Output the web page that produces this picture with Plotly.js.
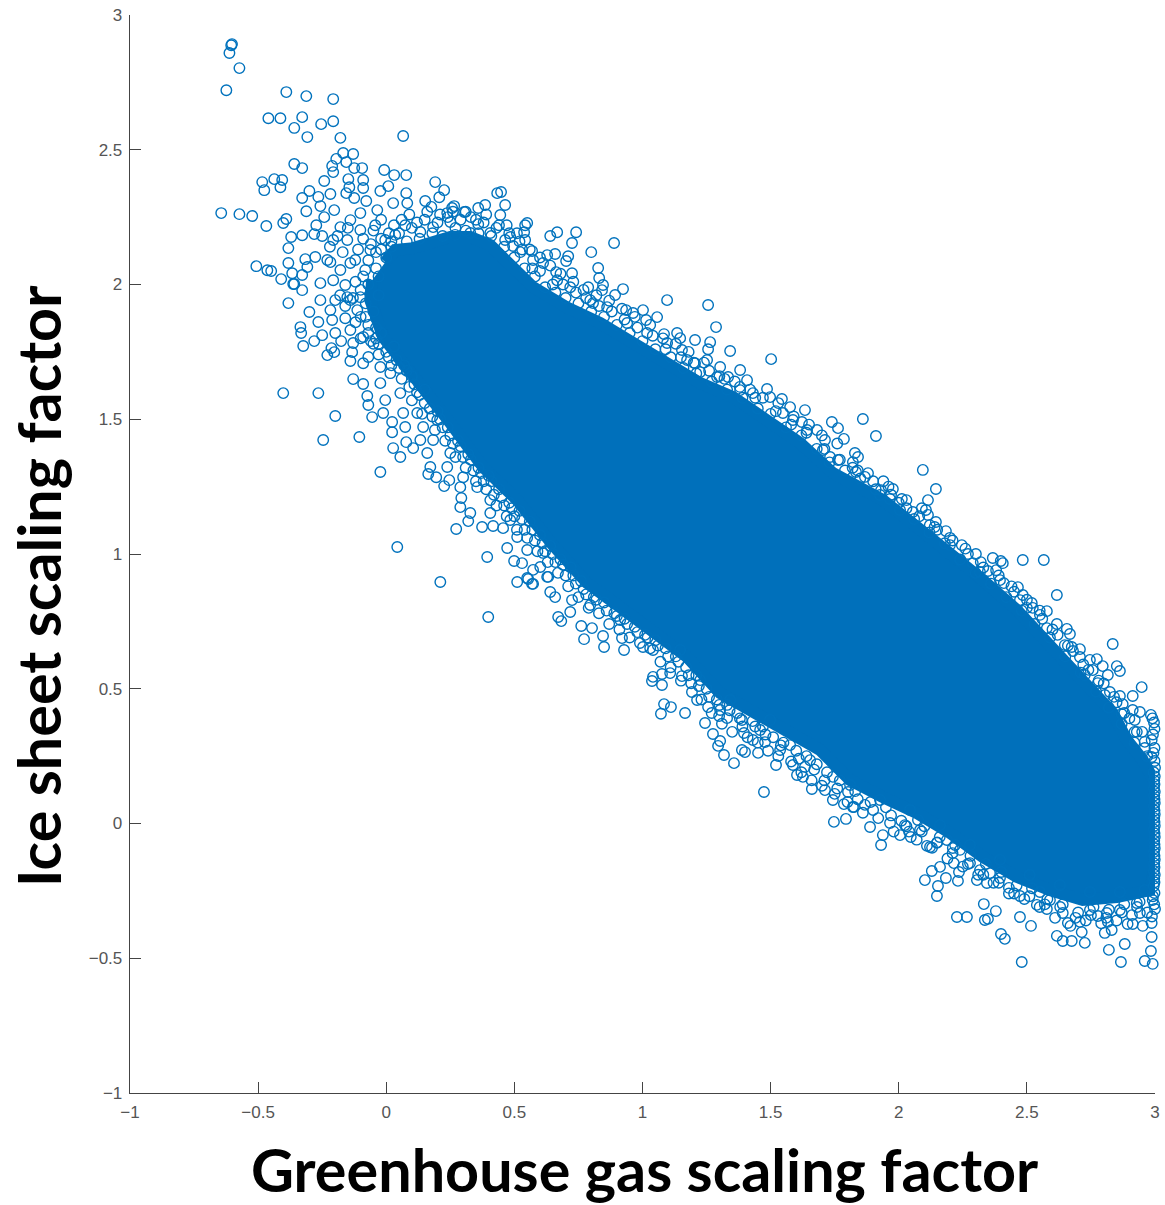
<!DOCTYPE html>
<html><head><meta charset="utf-8">
<script src="https://cdn.plot.ly/plotly-3.0.1.min.js"></script>
<style>html,body{margin:0;padding:0;background:#fff}#chart{width:1165px;height:1205px}</style>
</head><body><div id="chart"></div>
<script>
const xTitle = "Greenhouse gas scaling factor";
const yTitle = "Ice sheet scaling factor";
const tickValues = [-1,-0.5,0,0.5,1,1.5,2,2.5,3];
const tickLabels = ["\u22121","\u22120.5","0","0.5","1","1.5","2","2.5","3"];

// outline of the part of the cloud where the circles overlap into solid colour
const coreOutline = [[-0.004,2.083],[0.035,2.128],[0.105,2.135],[0.172,2.154],[0.25,2.176],[0.328,2.176],[0.406,2.146],[0.445,2.109],[0.573,1.99],[0.703,1.916],[0.835,1.857],[0.963,1.783],[1.096,1.708],[1.225,1.634],[1.353,1.582],[1.486,1.497],[1.615,1.412],[1.743,1.3],[1.81,1.263],[1.938,1.2],[2.071,1.1],[2.2,1.004],[2.328,0.903],[2.461,0.792],[2.59,0.655],[2.718,0.532],[2.835,0.41],[2.89,0.31],[2.952,0.236],[3,0.15],[3,-0.161],[2.98,-0.247],[2.851,-0.273],[2.718,-0.284],[2.59,-0.247],[2.461,-0.198],[2.328,-0.124],[2.2,-0.035],[2.071,0.039],[1.938,0.098],[1.81,0.161],[1.693,0.273],[1.564,0.347],[1.431,0.421],[1.303,0.484],[1.174,0.618],[1.041,0.718],[0.913,0.803],[0.784,0.892],[0.651,1.033],[0.511,1.2],[0.378,1.323],[0.25,1.486],[0.121,1.645],[-0.012,1.805],[-0.062,1.942],[-0.055,2.016]];

const topLeftPoints = [[-0.605,2.888],[-0.602,2.892],[-0.612,2.859],[-0.573,2.803],[-0.624,2.721],[-0.39,2.714],[-0.312,2.699],[-0.207,2.688],[-0.46,2.617],[-0.413,2.617],[-0.328,2.621],[-0.359,2.581],[-0.254,2.595],[-0.207,2.606],[-0.308,2.547],[-0.179,2.544],[0.066,2.551],[-0.168,2.488],[-0.129,2.484],[-0.195,2.466],[-0.156,2.454],[-0.359,2.447],[-0.328,2.432],[-0.211,2.44],[-0.207,2.417],[-0.125,2.432],[-0.094,2.432],[-0.008,2.425],[0.031,2.406],[0.078,2.406],[0.191,2.38],[0.226,2.35],[0.207,2.324],[-0.484,2.38],[-0.437,2.391],[-0.406,2.388],[-0.476,2.35],[-0.413,2.361],[-0.242,2.384],[-0.148,2.391],[-0.09,2.388],[-0.144,2.361],[-0.09,2.358],[0.008,2.365],[-0.023,2.347],[0.078,2.339],[-0.3,2.347],[-0.328,2.321],[-0.218,2.336],[-0.265,2.325],[-0.257,2.291],[-0.156,2.339],[-0.125,2.321],[-0.078,2.31],[-0.312,2.272],[-0.203,2.276],[0.152,2.31],[0.176,2.288],[0.265,2.291],[0.304,2.269],[0.359,2.284],[0.238,2.265],[-0.644,2.265],[-0.573,2.261],[-0.523,2.254],[-0.468,2.217],[-0.39,2.243],[-0.402,2.228],[-0.371,2.176],[-0.328,2.183],[-0.281,2.187],[-0.382,2.135],[-0.507,2.068],[-0.464,2.053],[-0.449,2.05],[-0.41,2.02],[-0.382,2.08],[-0.316,2.094],[-0.308,2.065],[-0.367,2.042],[-0.328,2.035],[-0.359,2.002],[-0.328,1.979],[-0.273,2.22],[-0.242,2.25],[-0.101,2.265],[-0.035,2.276],[0.027,2.302],[0.082,2.302],[0.183,2.213],[0.25,2.232],[0.328,2.191],[-0.277,2.102],[-0.257,2.005],[-0.23,2.091],[-0.207,2.165],[-0.179,2.213],[-0.14,2.239],[-0.152,2.165],[-0.101,2.202],[-0.207,2.016],[-0.14,2.08],[0.269,2.184],[0.406,2.191],[0.359,2.224],[0.445,2.258],[0.386,2.295],[0.433,2.339],[0.257,2.284],[0.484,2.176],[0.542,2.22],[0.464,2.165],[0.133,2.195],[0.074,2.22],[0.035,2.184],[-0.043,2.22],[-0.004,2.165],[-0.062,2.128],[-0.121,2.091],[-0.082,2.054],[-0.16,1.998],[-0.179,2.054],[-0.218,2.083],[-0.14,1.942],[-0.199,1.942],[-0.257,1.942],[-0.16,1.875]];

const lowerLeftPoints = [[-0.363,2.002],[-0.382,1.931],[-0.3,1.898],[-0.218,1.905],[-0.335,1.842],[-0.332,1.82],[-0.265,1.861],[-0.211,1.868],[-0.324,1.772],[-0.281,1.79],[-0.25,1.812],[-0.199,1.82],[-0.176,1.79],[-0.214,1.764],[-0.23,1.738],[-0.203,1.749],[-0.14,1.716],[-0.133,1.749],[-0.09,1.708],[-0.129,1.649],[-0.09,1.631],[-0.074,1.586],[-0.07,1.553],[-0.055,1.508],[-0.012,1.523],[0.023,1.49],[0.023,1.452],[0.074,1.471],[0.027,1.393],[0.055,1.36],[0.078,1.415],[0.105,1.393],[0.133,1.423],[0.16,1.375],[0.172,1.323],[0.164,1.297],[0.195,1.285],[0.226,1.252],[0.246,1.274],[0.293,1.208],[0.289,1.174],[0.328,1.152],[0.32,1.122],[0.374,1.1],[0.417,1.104],[0.456,1.096],[0.273,1.093],[0.394,0.989],[0.472,1.022],[0.499,0.974],[0.53,0.966],[0.511,0.896],[0.554,0.907],[0.573,0.889],[0.64,0.859],[0.628,0.915],[0.601,0.952],[0.573,0.941],[-0.402,1.597],[-0.265,1.597],[-0.199,1.512],[-0.246,1.423],[-0.105,1.434],[-0.023,1.304],[0.043,1.026],[0.211,0.896],[0.398,0.766],[-0.023,1.634],[-0.004,1.571],[0.016,1.671],[0.055,1.597],[0.066,1.523],[0.121,1.523],[0.144,1.471],[0.199,1.497],[0.183,1.423],[0.25,1.375],[0.238,1.323],[0.3,1.285],[0.355,1.248],[0.289,1.248],[0.406,1.2],[0.406,1.152],[0.484,1.126],[0.511,1.063],[0.55,1.015],[0.612,1.004],[-0.14,1.831],[-0.09,1.805],[-0.113,1.905],[-0.152,1.953],[-0.101,1.953],[-0.129,1.783],[-0.07,1.731],[-0.023,1.694]];

const upperEdgePoints = [[0.448,2.343],[0.464,2.295],[0.55,2.228],[0.538,2.194],[0.542,2.165],[0.64,2.18],[0.667,2.194],[0.741,2.194],[0.725,2.154],[0.889,2.154],[0.8,2.12],[0.659,2.113],[0.71,2.105],[0.702,2.087],[0.628,2.109],[0.569,2.124],[0.495,2.143],[0.827,2.061],[0.831,2.024],[0.663,2.046],[0.725,2.042],[0.846,1.998],[0.788,1.99],[0.924,1.983],[0.842,1.979],[0.893,1.961],[1.096,1.942],[1.256,1.924],[1.287,1.842],[0.936,1.905],[1.002,1.905],[0.963,1.894],[1.057,1.879],[1.014,1.868],[1.084,1.816],[1.135,1.82],[1.147,1.801],[1.205,1.794],[1.264,1.786],[1.256,1.76],[1.342,1.753],[1.502,1.723],[1.252,1.72],[1.205,1.708],[1.303,1.694],[1.381,1.683],[1.334,1.657],[1.408,1.645],[1.486,1.612],[1.498,1.582],[1.544,1.575],[1.576,1.545],[1.634,1.534],[1.622,1.49],[1.681,1.46],[1.739,1.49],[1.763,1.467],[1.86,1.501],[1.786,1.427],[1.911,1.438],[1.712,1.423],[1.732,1.36],[1.763,1.349],[1.829,1.375],[1.841,1.36],[1.821,1.341],[1.868,1.286],[0.796,1.942],[0.862,1.916],[0.718,1.99],[0.612,2.08],[0.523,2.12],[1.018,1.82],[1.096,1.783],[1.154,1.757],[1.225,1.675],[1.381,1.608],[1.548,1.523],[1.642,1.46],[0.573,2.091],[0.667,2.016],[0.807,1.931],[0.94,1.857],[1.174,1.72],[1.291,1.657],[1.431,1.597],[1.587,1.497],[1.704,1.386]];

const upperRightPoints = [[2.094,1.312],[2.145,1.241],[2.114,1.2],[1.977,1.241],[1.931,1.237],[2.012,1.204],[1.966,1.204],[1.833,1.304],[2.106,1.163],[2.055,1.156],[2.114,1.145],[2.145,1.119],[2.184,1.085],[2.246,1.033],[2.301,1],[2.367,0.985],[2.406,0.966],[2.398,0.974],[2.484,0.978],[2.566,0.978],[2.289,0.966],[2.348,0.937],[2.317,0.933],[2.41,0.892],[2.465,0.877],[2.617,0.848],[2.484,0.848],[2.519,0.818],[2.578,0.788],[2.523,0.8],[2.617,0.74],[2.656,0.722],[2.668,0.703],[2.578,0.725],[2.675,0.655],[2.707,0.647],[2.835,0.666],[2.707,0.618],[2.773,0.61],[2.746,0.607],[2.796,0.584],[2.851,0.584],[2.863,0.566],[2.816,0.551],[2.757,0.569],[2.777,0.521],[2.948,0.506],[2.913,0.473],[2.824,0.488],[2.863,0.473],[2.874,0.443],[2.913,0.421],[2.984,0.403],[2.941,0.414],[2.87,0.406],[2.005,1.163],[2.2,1.033],[2.239,0.978],[2.395,0.903],[2.551,0.774],[2.648,0.662],[2.726,0.551],[2.804,0.477],[2.921,0.384],[2.473,0.829],[2.121,1.107],[1.927,1.219]];

const lowerRightPoints = [[2.998,0.351],[2.987,0.31],[2.998,0.28],[3,0.207],[2.929,0.34],[2.96,0.303],[2.987,0.247],[1.825,0.061],[1.868,0.069],[1.888,-0.013],[1.938,-0.043],[1.931,-0.08],[2.005,-0.043],[2.047,-0.05],[1.966,0.002],[2.024,-0.006],[2.083,-0.024],[2.11,-0.083],[2.149,-0.072],[2.122,-0.087],[2.211,-0.091],[2.161,-0.161],[2.129,-0.176],[2.215,-0.147],[2.235,-0.18],[2.102,-0.21],[2.184,-0.202],[2.231,-0.213],[2.153,-0.232],[2.149,-0.269],[2.305,-0.21],[2.344,-0.221],[2.332,-0.299],[2.379,-0.325],[2.227,-0.347],[2.266,-0.347],[2.336,-0.358],[2.348,-0.354],[2.473,-0.347],[2.516,-0.38],[2.399,-0.41],[2.414,-0.428],[2.48,-0.514],[2.473,-0.269],[2.43,-0.239],[2.539,-0.302],[2.578,-0.317],[2.617,-0.417],[2.64,-0.436],[2.675,-0.436],[2.714,-0.403],[2.726,-0.443],[2.777,-0.343],[2.707,-0.365],[2.66,-0.369],[2.82,-0.469],[2.882,-0.447],[2.867,-0.514],[2.96,-0.51],[2.991,-0.521],[2.984,-0.473],[2.987,-0.421],[2.804,-0.406],[2.831,-0.395],[2.893,-0.373],[2.913,-0.373],[2.952,-0.38],[2.987,-0.369],[3,-0.317],[2.816,-0.365],[2.59,-0.284],[2.64,-0.332],[2.746,-0.321],[2.812,-0.332],[2.941,-0.332],[2.863,-0.321],[2.991,-0.284],[2.929,-0.295],[2.551,-0.254],[2.356,-0.184],[2.395,-0.202],[2.278,-0.147],[2.317,-0.173],[2.239,-0.098],[2.188,-0.061],[2.075,0.013]];

const lowerMiddlePoints = [[0.569,0.889],[0.55,0.911],[0.632,0.915],[0.659,0.84],[0.725,0.829],[0.718,0.785],[0.671,0.766],[0.683,0.751],[0.761,0.733],[0.803,0.725],[0.772,0.684],[0.85,0.655],[0.846,0.696],[0.928,0.644],[0.92,0.688],[1.002,0.655],[1.041,0.644],[1.041,0.544],[1.037,0.529],[1.076,0.555],[1.076,0.514],[1.154,0.547],[1.108,0.558],[1.084,0.443],[1.111,0.432],[1.072,0.407],[1.166,0.41],[1.193,0.488],[1.213,0.458],[1.256,0.432],[1.244,0.373],[1.275,0.332],[1.303,0.306],[1.295,0.288],[1.318,0.254],[1.357,0.224],[1.299,0.399],[1.33,0.391],[1.388,0.384],[1.396,0.336],[1.388,0.273],[1.4,0.265],[1.451,0.262],[1.431,0.31],[1.478,0.302],[1.521,0.217],[1.537,0.273],[1.587,0.217],[1.603,0.18],[1.626,0.173],[1.474,0.117],[1.661,0.128],[1.712,0.124],[1.743,0.087],[1.786,0.072],[1.821,0.061],[1.747,0.006],[1.794,0.017],[1.634,0.21],[1.743,0.173],[1.802,0.117],[1.147,0.644],[1.225,0.532],[1.342,0.458],[1.498,0.384],[1.654,0.235],[0.913,0.755],[0.796,0.811],[1.303,0.421],[1.459,0.347],[1.576,0.291],[1.81,0.143],[1.927,0.087],[2.044,0.05],[2.161,-0.006],[2.278,-0.08],[2.395,-0.135],[2.511,-0.191],[2.629,-0.228],[2.746,-0.254],[2.863,-0.254],[2.96,-0.247]];

const rightEdgePoints = [[2.99,0.39],[2.996,0.375],[2.992,0.33],[2.994,0.262],[2.998,0.232],[2.995,0.19],[2.999,0.175],[2.997,0.16],[2.998,0.146],[2.996,0.132],[2.999,0.118],[2.997,0.104],[2.998,0.09],[2.999,0.076],[2.996,0.062],[2.998,0.048],[2.999,0.034],[2.997,0.02],[2.998,0.006],[2.999,-0.008],[2.996,-0.022],[2.998,-0.036],[2.999,-0.05],[2.997,-0.064],[2.998,-0.078],[2.999,-0.092],[2.996,-0.106],[2.998,-0.12],[2.999,-0.134],[2.997,-0.148],[2.998,-0.162],[2.996,-0.176],[2.999,-0.19],[2.997,-0.204],[2.998,-0.218],[2.995,-0.232],[2.998,-0.258],[2.992,-0.27],[2.997,-0.3],[2.988,-0.345]];

const upperBandPoints = [[0.02,2.14],[0.05,2.19],[0.08,2.16],[0.1,2.21],[0.13,2.17],[0.15,2.24],[0.18,2.19],[0.2,2.23],[0.22,2.18],[0.24,2.25],[0.27,2.21],[0.29,2.24],[0.31,2.2],[0.33,2.25],[0.36,2.19],[0.38,2.23],[0.41,2.18],[0.43,2.21],[0.46,2.14],[0.48,2.19],[0.5,2.1],[0.52,2.16],[0.54,2.06],[0.56,2.13],[0.58,2.03],[0.6,2.1],[0.62,1.99],[0.64,2.07],[0.66,1.97],[0.68,2.04],[0.7,1.95],[0.73,2.01],[0.75,1.93],[0.77,1.98],[0.8,1.9],[0.82,1.96],[0.85,1.88],[0.87,1.94],[0.9,1.85],[0.92,1.91],[0.95,1.82],[0.97,1.88],[1,1.79],[1.03,1.85],[1.05,1.76],[1.08,1.8],[1.11,1.73],[1.13,1.78],[1.16,1.69],[1.18,1.75],[1.21,1.67],[1.24,1.71],[1.27,1.64],[1.3,1.66],[1.33,1.61],[1.36,1.64],[1.39,1.58],[1.42,1.61],[1.45,1.54],[1.47,1.58],[1.5,1.52],[1.53,1.56],[1.56,1.47],[1.59,1.51],[1.62,1.44],[1.65,1.48],[1.68,1.39],[1.7,1.44],[1.73,1.34],[1.76,1.41],[1.79,1.31],[1.82,1.32],[1.85,1.28],[1.88,1.3],[1.91,1.24],[1.94,1.27],[1.97,1.22],[2,1.19],[2.03,1.17],[2.06,1.13],[2.09,1.17],[2.12,1.08],[2.15,1.09],[2.18,1.04],[2.21,1.05],[2.24,0.98],[2.27,1],[2.3,0.93],[2.33,0.95],[2.36,0.89],[2.39,0.92],[2.42,0.84],[2.45,0.86],[2.48,0.79],[2.5,0.83],[2.53,0.74],[2.56,0.76],[2.59,0.69],[2.62,0.7],[2.65,0.62],[2.68,0.64],[2.71,0.56],[2.74,0.57],[2.77,0.49],[2.8,0.52],[2.82,0.43],[2.85,0.45],[2.87,0.37],[2.9,0.39],[2.92,0.3],[2.95,0.34],[2.97,0.25],[-0.04,2.12],[-0.02,2.17],[0.01,2.19],[0.03,2.22],[0.06,2.24],[0.09,2.26],[0.12,2.23],[0.16,2.27],[0.21,2.26],[0.26,2.27],[0.31,2.27],[0.35,2.24],[0.39,2.26],[0.44,2.22],[0.47,2.22],[0.51,2.19],[0.53,2.13],[0.57,2.06],[0.6,2.05],[0.65,2],[0.69,2],[0.74,1.97],[0.78,1.95],[0.83,1.92],[0.88,1.9],[0.93,1.87],[0.98,1.84],[1.04,1.81],[1.09,1.76],[1.15,1.73],[1.2,1.71],[1.26,1.68],[1.32,1.65],[1.38,1.62],[1.44,1.58],[1.52,1.53],[1.58,1.48],[1.64,1.45],[1.71,1.39],[1.77,1.35],[1.84,1.31],[1.9,1.27],[1.96,1.25],[2.03,1.2],[2.08,1.14],[2.14,1.1],[2.2,1.06],[2.26,1.02],[2.32,0.97],[2.38,0.94],[2.44,0.88],[2.5,0.8],[2.55,0.79],[2.6,0.72],[2.66,0.66],[2.72,0.59],[2.78,0.53],[2.84,0.47],[2.88,0.41],[2.92,0.34],[2.96,0.28]];

const lowerBandPoints = [[-0.05,1.78],[-0.03,1.74],[0,1.75],[0.02,1.7],[0.04,1.72],[0.06,1.65],[0.08,1.68],[0.09,1.62],[0.11,1.63],[0.1,1.57],[0.13,1.59],[0.15,1.56],[0.14,1.52],[0.17,1.54],[0.19,1.46],[0.21,1.5],[0.23,1.42],[0.25,1.44],[0.27,1.36],[0.29,1.4],[0.31,1.32],[0.33,1.35],[0.35,1.27],[0.37,1.3],[0.39,1.24],[0.41,1.27],[0.43,1.18],[0.45,1.21],[0.47,1.14],[0.49,1.17],[0.51,1.09],[0.53,1.13],[0.55,1.06],[0.57,1.09],[0.59,1.01],[0.61,1.04],[0.63,0.97],[0.65,1],[0.67,0.93],[0.69,0.96],[0.71,0.88],[0.73,0.92],[0.75,0.84],[0.77,0.87],[0.79,0.8],[0.81,0.84],[0.83,0.78],[0.85,0.82],[0.87,0.74],[0.89,0.78],[0.91,0.72],[0.93,0.76],[0.95,0.69],[0.97,0.73],[0.99,0.67],[1.01,0.7],[1.03,0.65],[1.05,0.68],[1.07,0.6],[1.09,0.65],[1.11,0.58],[1.13,0.62],[1.15,0.53],[1.17,0.58],[1.19,0.52],[1.21,0.55],[1.23,0.46],[1.25,0.5],[1.27,0.41],[1.29,0.46],[1.31,0.37],[1.33,0.44],[1.35,0.34],[1.37,0.41],[1.39,0.36],[1.41,0.32],[1.43,0.38],[1.45,0.3],[1.47,0.36],[1.49,0.27],[1.51,0.32],[1.53,0.25],[1.55,0.3],[1.58,0.23],[1.6,0.27],[1.62,0.19],[1.64,0.25],[1.66,0.16],[1.68,0.22],[1.7,0.14],[1.72,0.19],[1.75,0.11],[1.77,0.16],[1.8,0.08],[1.83,0.12],[1.86,0.04],[1.89,0.08],[1.92,0.02],[1.95,0.06],[1.98,-0.03],[2.01,0.01],[2.04,-0.03],[2.07,-0.06],[2.1,-0.01],[2.13,-0.09],[2.16,-0.05],[2.19,-0.13],[2.22,-0.08],[2.25,-0.16],[2.28,-0.12],[2.31,-0.19],[2.34,-0.15],[2.37,-0.22],[2.4,-0.18],[2.43,-0.26],[2.46,-0.23],[2.49,-0.28],[2.52,-0.24],[2.55,-0.31],[2.58,-0.28],[2.61,-0.35],[2.64,-0.3],[2.67,-0.38],[2.7,-0.33],[2.73,-0.36],[2.76,-0.31],[2.79,-0.37],[2.82,-0.32],[2.85,-0.36],[2.88,-0.3],[2.91,-0.34],[2.94,-0.29],[2.97,-0.33],[-0.08,1.88],[-0.07,1.82],[-0.04,1.8],[-0.03,1.78],[0.01,1.73],[0.03,1.77],[0.05,1.69],[0.07,1.7],[0.1,1.66],[0.12,1.6],[0.15,1.61],[0.18,1.51],[0.2,1.53],[0.22,1.47],[0.24,1.47],[0.26,1.41],[0.28,1.42],[0.3,1.36],[0.32,1.37],[0.34,1.31],[0.36,1.32],[0.38,1.27],[0.4,1.29],[0.42,1.22],[0.44,1.24],[0.46,1.18],[0.48,1.19],[0.5,1.14],[0.52,1.16],[0.54,1.09],[0.56,1.12],[0.58,1.05],[0.6,1.07],[0.62,1.01],[0.64,1.03],[0.66,0.97],[0.68,0.98],[0.7,0.92],[0.72,0.95],[0.74,0.89],[0.76,0.9],[0.78,0.85],[0.82,0.83],[0.86,0.79],[0.9,0.77],[0.94,0.74],[0.98,0.71],[1.02,0.69],[1.06,0.66],[1.1,0.62],[1.14,0.6],[1.18,0.55],[1.22,0.51],[1.26,0.47],[1.3,0.44],[1.34,0.42],[1.38,0.39],[1.44,0.36],[1.48,0.33],[1.54,0.29],[1.61,0.24],[1.67,0.2],[1.71,0.16],[1.76,0.13],[1.84,0.09],[1.9,0.05],[1.97,0.03],[2.03,-0.01],[2.09,-0.03],[2.15,-0.07],[2.21,-0.11],[2.27,-0.15],[2.33,-0.19],[2.39,-0.22],[2.45,-0.26],[2.51,-0.27],[2.57,-0.3],[2.63,-0.31],[2.69,-0.35],[2.75,-0.34],[2.81,-0.35],[2.87,-0.33],[2.93,-0.31]];

const leftBandPoints = [[-0.05,2.2],[-0.02,2.24],[-0.06,2.15],[-0.02,2.13],[-0.09,2.17],[-0.11,2.13],[-0.07,2.09],[-0.04,2.06],[-0.09,2.03],[-0.12,2.01],[-0.07,2],[-0.1,1.98],[-0.13,1.95],[-0.08,1.93],[-0.05,1.9],[-0.1,1.88],[-0.12,1.86],[-0.07,1.85],[-0.04,1.84],[-0.1,1.8],[-0.06,1.79],[-0.02,1.82],[-0.17,2.12],[-0.19,2.18],[-0.15,2.21],[-0.22,2.14],[-0.25,2.18],[-0.18,1.96],[-0.16,1.92],[-0.03,1.96],[-0.03,2.03],[0,2.1],[0.02,2.16]];

const ringPoints = [].concat(topLeftPoints, lowerLeftPoints, upperEdgePoints, upperRightPoints, lowerRightPoints, lowerMiddlePoints, rightEdgePoints, upperBandPoints, lowerBandPoints, leftBandPoints);
const blue = "#0072BD";
const titleFont = {family:"Lato, sans-serif", size:59.3, color:"#000", weight:700};

const traces = [
  {type:"scatter", mode:"lines", x:coreOutline.map(p=>p[0]), y:coreOutline.map(p=>p[1]),
   fill:"toself", fillcolor:"#0070BB", line:{color:"#0070BB", width:12}, hoverinfo:"skip", showlegend:false},
  {type:"scatter", mode:"markers", x:ringPoints.map(p=>p[0]), y:ringPoints.map(p=>p[1]), cliponaxis:false,
   marker:{symbol:"circle-open", size:10.5, color:blue, line:{color:blue, width:1.4}}, showlegend:false}
];
const axisBase = {range:[-1,3], tickmode:"array", tickvals:tickValues, ticktext:tickLabels,
  ticks:"inside", ticklen:11, tickwidth:1, tickcolor:"#444", showline:true, linecolor:"#444", linewidth:1.3,
  showgrid:false, zeroline:false, ticklabelstandoff:3, tickfont:{family:"Liberation Sans, Arial, sans-serif", size:17, color:"#555"}};
const layout = {
  width:1165, height:1205, autosize:false, showlegend:false,
  paper_bgcolor:"#fff", plot_bgcolor:"#fff",
  margin:{l:130, r:10, t:15, b:112},
  xaxis:Object.assign({}, axisBase),
  yaxis:Object.assign({}, axisBase),
  annotations:[
    {text:xTitle, xref:"paper", yref:"paper", x:0.5024, y:-0.0708, xanchor:"center", yanchor:"middle", showarrow:false, font:titleFont},
    {text:yTitle, xref:"paper", yref:"paper", x:-0.0897, y:0.4694, xanchor:"center", yanchor:"middle", textangle:-90, showarrow:false, font:titleFont}
  ]
};
Plotly.newPlot("chart", traces, layout, {displayModeBar:false, staticPlot:true});
</script></body></html>
